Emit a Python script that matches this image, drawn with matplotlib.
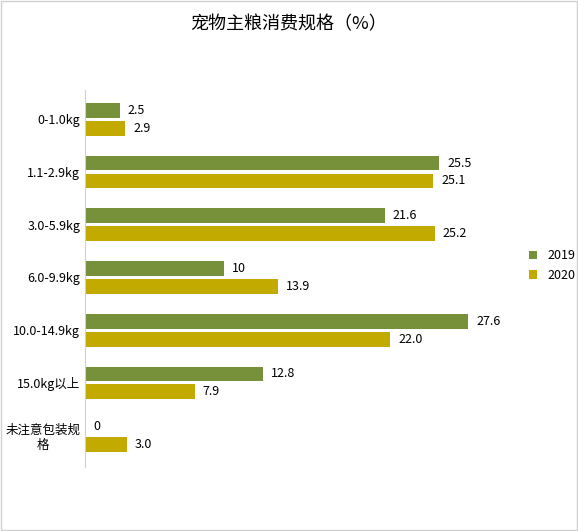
import matplotlib.pyplot as plt
import numpy as np

plt.rcParams['font.family'] = ['Noto Sans CJK SC', 'DejaVu Sans']

categories = ['0-1.0kg', '1.1-2.9kg', '3.0-5.9kg', '6.0-9.9kg', '10.0-14.9kg', '15.0kg以上', '未注意包装规\n格']
v2019 = [2.5, 25.5, 21.6, 10, 27.6, 12.8, 0]
v2020 = [2.9, 25.1, 25.2, 13.9, 22.0, 7.9, 3.0]
lab2019 = ['2.5', '25.5', '21.6', '10', '27.6', '12.8', '0']
lab2020 = ['2.9', '25.1', '25.2', '13.9', '22.0', '7.9', '3.0']

c19 = '#77913A'
c20 = '#C2AA00'

fig = plt.figure(figsize=(5.78, 5.31), dpi=100)
ax = fig.add_axes([0.147, 0.12, 0.72, 0.71])

y = np.arange(len(categories))
h = 0.28
off = 0.17
ax.barh(y - off, v2019, height=h, color=c19, label='2019')
ax.barh(y + off, v2020, height=h, color=c20, label='2020')
for i in range(len(categories)):
    ax.text(v2019[i] + 0.6, y[i] - off, lab2019[i], va='center', fontsize=9)
    ax.text(v2020[i] + 0.6, y[i] + off, lab2020[i], va='center', fontsize=9)

ax.set_yticks(y)
ax.set_yticklabels(categories, fontsize=9, multialignment='center')
ax.set_ylim(len(categories) - 0.4, -0.55)
ax.set_xlim(0, 30)
ax.set_xticks([])
for s in ['top', 'right', 'bottom']:
    ax.spines[s].set_visible(False)
ax.spines['left'].set_color('#d0d0d0')
ax.tick_params(axis='y', length=0)

fig.legend(loc='center left', bbox_to_anchor=(0.895, 0.5), frameon=False, fontsize=9,
           handlelength=0.7, handleheight=0.7)
fig.text(0.5, 0.955, '宠物主粮消费规格（%）', ha='center', va='center', fontsize=13)
fig.patches.append(plt.Rectangle((0.002, 0.002), 0.996, 0.996, transform=fig.transFigure,
                                 fill=False, edgecolor='#d0d0d0', lw=1))
fig.savefig('out.png')
